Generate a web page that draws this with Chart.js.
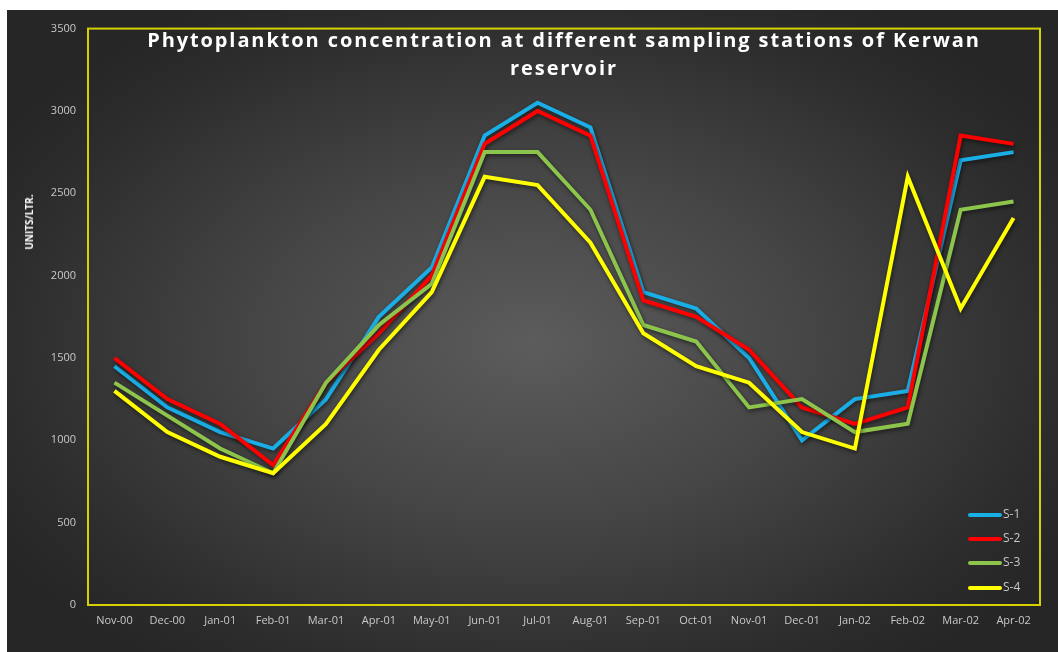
<!DOCTYPE html>
<html>
<head>
<meta charset="utf-8">
<script src="https://cdn.jsdelivr.net/npm/chart.js@4"></script>
<style>
  html, body { margin: 0; padding: 0; background: #ffffff; }
  #wrap {
    position: absolute; left: 7px; top: 10px; width: 1051px; height: 642px;
    background: radial-gradient(ellipse 60% 62% at 50% 52%, #5c5c5c 0%, #454545 45%, #2c2c2c 85%, #262626 100%);
  }
  #title {
    position: absolute; left: 81px; width: 952px; top: 16px;
    text-align: center; color: #ffffff; font-family: "Open Sans", sans-serif;
    font-weight: bold; font-size: 20px; line-height: 28px; letter-spacing: 1.9px;
  }
  #ytitle {
    position: absolute; left: 22px; top: 212px; color: #ffffff;
    font-family: "Open Sans", sans-serif; font-weight: bold; font-size: 10px;
    transform: translate(-50%, -50%) rotate(-90deg); transform-origin: center; white-space: nowrap;
  }
  .leg { position: absolute; left: 961px; height: 14px; font-family: "Open Sans", sans-serif;
         font-size: 12px; color: #c8c8c8; line-height: 14px; }
  .leg span { display: inline-block; width: 34px; height: 4px; border-radius: 2px; vertical-align: middle; margin-right: 1px; }
</style>
</head>
<body>
<div id="wrap">
  <canvas id="phytoChart"></canvas>
  <div id="title">Phytoplankton concentration at different sampling stations of Kerwan<br>reservoir</div>
  <div id="ytitle">UNITS/LTR.</div>
  <div class="leg" style="top:497px"><span style="background:#1aaee6"></span>S-1</div>
  <div class="leg" style="top:521px"><span style="background:#ff0000"></span>S-2</div>
  <div class="leg" style="top:545px"><span style="background:#8cc44c"></span>S-3</div>
  <div class="leg" style="top:570px"><span style="background:#ffff00"></span>S-4</div>
</div>
<script>
// months on the x axis
var months = ['Nov-00', 'Dec-00', 'Jan-01', 'Feb-01', 'Mar-01', 'Apr-01', 'May-01', 'Jun-01', 'Jul-01',
              'Aug-01', 'Sep-01', 'Oct-01', 'Nov-01', 'Dec-01', 'Jan-02', 'Feb-02', 'Mar-02', 'Apr-02'];

// units per litre at each station
var s1 = [1450, 1200, 1050, 950, 1250, 1750, 2050, 2850, 3050, 2900, 1900, 1800, 1500, 1000, 1250, 1300, 2700, 2750];
var s2 = [1500, 1250, 1100, 850, 1350, 1650, 2000, 2800, 3000, 2850, 1850, 1750, 1550, 1200, 1100, 1200, 2850, 2800];
var s3 = [1350, 1150, 950, 800, 1350, 1700, 1950, 2750, 2750, 2400, 1700, 1600, 1200, 1250, 1050, 1100, 2400, 2450];
var s4 = [1300, 1050, 900, 800, 1100, 1550, 1900, 2600, 2550, 2200, 1650, 1450, 1350, 1050, 950, 2600, 1800, 2350];

var yTicks = [0, 500, 1000, 1500, 2000, 2500, 3000, 3500];

function line(label, data, color, order) {
    return {
        label: label,
        data: data,
        borderColor: color,
        backgroundColor: color,
        borderWidth: 4,
        pointRadius: 0,
        tension: 0,
        fill: false,
        order: order
    };
}

// yellow frame round the plot area
var framePlugin = {
    id: 'frame',
    afterDraw: function (chart) {
        var a = chart.chartArea, c = chart.ctx;
        c.save();
        c.strokeStyle = '#d6d200';
        c.lineWidth = 2;
        c.strokeRect(a.left, a.top, a.right - a.left, a.bottom - a.top);
        c.restore();
    }
};

// soft shadow under each line
var shadowPlugin = {
    id: 'lineShadow',
    beforeDatasetDraw: function (chart) {
        var c = chart.ctx;
        c.save();
        c.shadowColor = 'rgba(0,0,0,0.55)';
        c.shadowBlur = 4;
        c.shadowOffsetX = 1;
        c.shadowOffsetY = 2;
    },
    afterDatasetDraw: function (chart) {
        chart.ctx.restore();
    }
};

var ctx = document.getElementById('phytoChart').getContext('2d');

new Chart(ctx, {
    type: 'line',
    data: {
        labels: months,
        datasets: [
            line('S-1', s1, '#1aaee6', 4),
            line('S-2', s2, '#ff0000', 3),
            line('S-3', s3, '#8cc44c', 2),
            line('S-4', s4, '#ffff00', 1)
        ]
    },
    options: {
        responsive: true,
        maintainAspectRatio: false,
        animation: false,
        layout: { padding: { top: 8, right: 18, bottom: 0, left: 0 } },
        plugins: {
            legend: { display: false },
            title: { display: false },
            tooltip: { enabled: false }
        },
        scales: {
            x: {
                offset: true,
                grid: { display: false, drawTicks: false },
                border: { display: false },
                ticks: {
                    color: '#c8c8c8',
                    font: { family: 'Open Sans', size: 11 },
                    padding: 9,
                    maxRotation: 0,
                    autoSkip: false
                },
                afterFit: function (scale) { scale.height = 47; }
            },
            y: {
                min: 0,
                max: 3500,
                grid: { display: false, drawTicks: false },
                border: { display: false },
                afterBuildTicks: function (scale) {
                    scale.ticks = yTicks.map(function (v) { return { value: v }; });
                },
                ticks: {
                    color: '#c8c8c8',
                    font: { family: 'Open Sans', size: 11 },
                    padding: 12,
                    callback: function (v) { return String(v); }
                },
                afterFit: function (scale) { scale.width = 81; }
            }
        }
    },
    plugins: [framePlugin, shadowPlugin]
});
</script>
</body>
</html>
